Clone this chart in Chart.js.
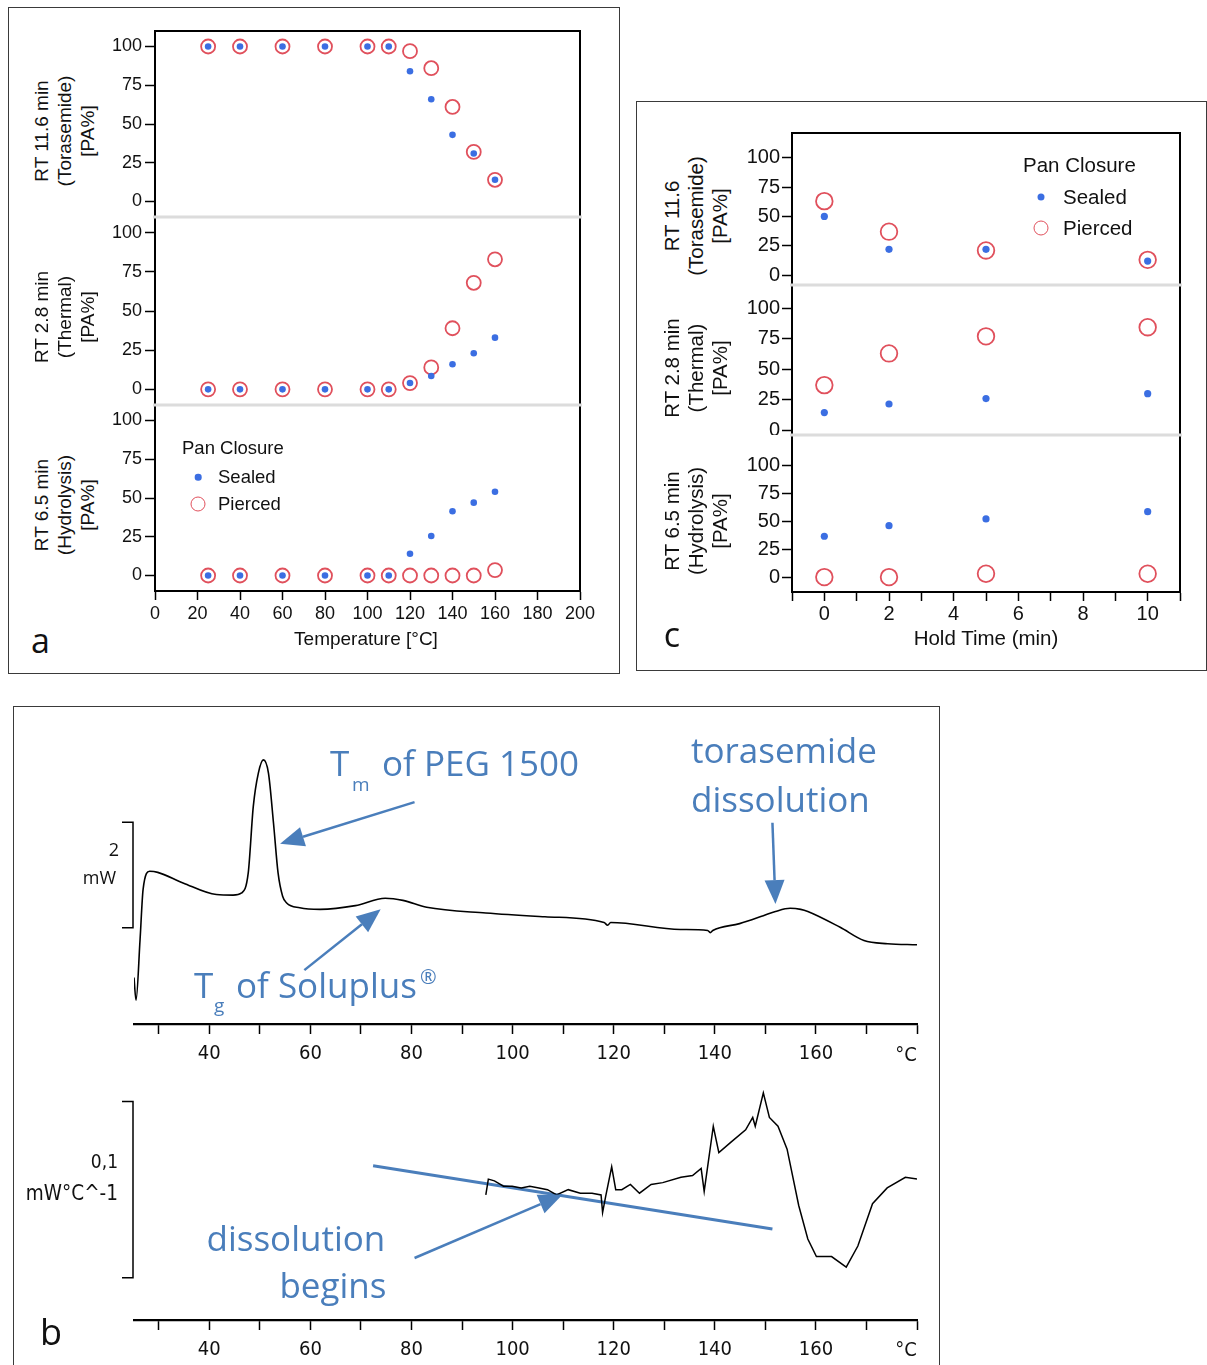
<!DOCTYPE html>
<html>
<head>
<meta charset="utf-8">
<title>Torasemide degradation and DSC</title>
<script src="https://cdn.jsdelivr.net/npm/chart.js@4.4.1/dist/chart.umd.min.js"></script>
<style>
  html,body{margin:0;padding:0;background:#fff;}
  #wrap{position:relative;width:1207px;height:1365px;overflow:hidden;font-family:'Liberation Sans',Arial,sans-serif;color:#111;}
  #wrap canvas{position:absolute;}
  .box{position:absolute;border:1.5px solid #3a3a3a;box-sizing:border-box;}
  .lbl{position:absolute;white-space:nowrap;line-height:1;transform:translate(-50%,-50%);}
  .lbl.left{transform:translate(0,-50%);}
  .vt{position:absolute;white-space:nowrap;text-align:center;transform:translate(-50%,-50%) rotate(-90deg);}
  .mark{position:absolute;border-radius:50%;transform:translate(-50%,-50%);box-sizing:border-box;}
</style>
</head>
<body>
<div id="wrap">
  <div class="box" style="left:8px;top:7px;width:612px;height:667px"></div>
  <div class="box" style="left:636px;top:101px;width:571px;height:570px"></div>
  <div class="box" style="left:13px;top:706px;width:927px;height:680px"></div>

  <canvas id="a1" width="500" height="201" style="left:100px;top:16px"></canvas>
  <canvas id="a2" width="500" height="198" style="left:100px;top:207px"></canvas>
  <canvas id="a3" width="500" height="241" style="left:100px;top:395px"></canvas>

  <canvas id="c1" width="470" height="165" style="left:732px;top:120px"></canvas>
  <canvas id="c2" width="470" height="160" style="left:732px;top:275px"></canvas>
  <canvas id="c3" width="470" height="212" style="left:732px;top:425px"></canvas>

  <canvas id="dsc" width="926" height="369" style="left:13px;top:706px"></canvas>
  <canvas id="deriv" width="926" height="300" style="left:13px;top:1065px"></canvas>
</div>
<script>
// ---- panel a: temperature ramp ----
const tempC = [25, 40, 60, 80, 100, 110, 120, 130, 140, 150, 160];
const toraSealedT   = [100, 100, 100, 100, 100, 100, 84, 66, 43, 31, 14];
const toraPiercedT  = [100, 100, 100, 100, 100, 100, 97, 86, 61, 32, 14];
const thermSealedT  = [0, 0, 0, 0, 0, 0, 4, 8.5, 16, 23, 33];
const thermPiercedT = [0, 0, 0, 0, 0, 0, 4, 14, 39, 68, 83];
const hydroSealedT  = [0, 0, 0, 0, 0, 0, 14, 25.5, 41.5, 47, 54];
const hydroPiercedT = [0, 0, 0, 0, 0, 0, 0, 0, 0, 0, 3.5];
const tempTicks = [0, 20, 40, 60, 80, 100, 120, 140, 160, 180, 200];

// ---- panel c: hold time at temperature ----
const holdMin = [0, 2, 5, 10];
const toraSealedH   = [50, 22, 22, 12];
const toraPiercedH  = [63, 37, 21, 13];
const thermSealedH  = [14.5, 21.5, 26, 30];
const thermPiercedH = [37, 63, 77, 84.5];
const hydroSealedH  = [36.5, 46, 52, 58.5];
const hydroPiercedH = [0, 0, 3, 3];
const holdTicks = [-1, 0, 1, 2, 3, 4, 5, 6, 7, 8, 9, 10, 11];

const pctTicks = [0, 25, 50, 75, 100];

// ---- panel b: DSC heat flow (mW) and its derivative (mW/°C) ----
const dscTemp = [25.1, 25.5, 26.3, 26.9, 28.2, 29.8, 34.8, 41.4, 44.7, 46.4, 47.7, 48.7, 49.7, 50.7, 51.7, 52.7, 53.6, 54.5, 55.3, 57.9, 61.9, 68.9, 74.8, 78.3, 83.0, 94.7, 106.4, 118.1, 118.8, 119.4, 133.2, 138.6, 139.1, 139.6, 144.9, 149.6, 152.0, 154.9, 157.0, 158.4, 164.8, 169.5, 174.2, 180.0];
const dscHeat = [-0.62, -1.05, 0.10, 1.05, 1.39, 1.37, 1.17, 0.95, 0.94, 0.98, 1.36, 2.62, 3.25, 3.50, 3.25, 2.30, 1.36, 0.92, 0.79, 0.70, 0.67, 0.74, 0.88, 0.84, 0.71, 0.60, 0.53, 0.42, 0.37, 0.42, 0.29, 0.27, 0.23, 0.27, 0.40, 0.55, 0.63, 0.69, 0.67, 0.63, 0.33, 0.08, 0.02, 0.00];

const derivTemp = [94.7, 95.2, 96.4, 98.2, 99.9, 101.7, 103.4, 105.2, 106.9, 108.7, 111.0, 113.4, 115.7, 117.5, 117.8, 118.4, 119.6, 120.4, 121.6, 123.3, 125.1, 127.4, 129.7, 133.3, 135.6, 137.3, 137.9, 139.7, 140.8, 143.2, 146.1, 147.5, 148.0, 149.6, 150.8, 152.5, 154.3, 156.6, 158.4, 160.1, 163.1, 166.0, 168.3, 171.2, 174.1, 177.7, 180.0];
const derivVal = [0.047, 0.056, 0.055, 0.052, 0.052, 0.051, 0.052, 0.051, 0.050, 0.047, 0.050, 0.048, 0.048, 0.047, 0.037, 0.046, 0.063, 0.050, 0.050, 0.053, 0.048, 0.053, 0.054, 0.057, 0.058, 0.062, 0.049, 0.086, 0.071, 0.077, 0.084, 0.091, 0.086, 0.105, 0.091, 0.086, 0.073, 0.041, 0.022, 0.012, 0.012, 0.006, 0.018, 0.042, 0.051, 0.057, 0.056];

// onset tangent on the derivative curve
const tangentT = [72.4, 151.4];
const tangentV = [0.0636, 0.0277];

const dscTicks = [30, 40, 50, 60, 70, 80, 90, 100, 110, 120, 130, 140, 150, 160, 170, 180];
const dscLabels = [40, 60, 80, 100, 120, 140, 160];

const BLUE = '#3b6ee2', RED = '#e0505c', NOTE = '#4a7ebb';
const SANS = "'Liberation Sans', Arial, sans-serif";
const NARROW = "'Liberation Sans Narrow', 'DejaVu Sans Condensed', sans-serif";
const CAL = "'Open Sans', 'Noto Sans', sans-serif";

Chart.defaults.font.family = SANS;
Chart.defaults.color = '#111';

// right/top frame lines and the grey band between stacked panels
const framePlugin = {
  id: 'frame',
  afterDraw(chart, args, opts) {
    const {ctx, chartArea: a} = chart;
    ctx.save();
    ctx.strokeStyle = '#000';
    ctx.lineWidth = 2;
    ctx.beginPath();
    ctx.moveTo(a.right, a.top);
    ctx.lineTo(a.right, a.bottom);
    if (opts.top) { ctx.moveTo(a.left - 1, a.top); ctx.lineTo(a.right + 1, a.top); }
    ctx.stroke();
    if (opts.divider) {
      ctx.strokeStyle = '#dcdcdc';
      ctx.lineWidth = 3;
      ctx.beginPath();
      ctx.moveTo(a.left - 2, a.top);
      ctx.lineTo(a.right + 2, a.top);
      ctx.stroke();
    }
    ctx.restore();
  }
};

// annotations for the DSC curves: scale bar, arrows (in data units) and captions
const NOTES = {
  dsc: {
    bar: [0.32, 2.32],
    arrows: [
      { from: [80.6, 2.70], to: [54.0, 1.91] },
      { from: [151.4, 2.31], to: [152.0, 0.77] },
      { from: [58.8, -0.48], to: [73.9, 0.67] }
    ],
    texts: [
      { t: 'T', x: 317, y: 70, size: 35 },
      { t: 'm', x: 339, y: 85, size: 19 },
      { t: 'of PEG 1500', x: 369, y: 70, size: 35 },
      { t: 'torasemide', x: 678, y: 57, size: 35 },
      { t: 'dissolution', x: 678, y: 106, size: 35 },
      { t: 'T', x: 181, y: 292, size: 35 },
      { t: 'g', x: 201, y: 306, size: 19 },
      { t: 'of Soluplus', x: 223, y: 292, size: 35 },
      { t: '®', x: 407, y: 278, size: 20 },
      { t: '2', x: 106, y: 150, size: 18, color: '#111', align: 'right' },
      { t: 'mW', x: 103, y: 178, size: 18, color: '#111', align: 'right' },
      { t: '°C', x: 893, y: 355, size: 20, color: '#111', align: 'center', family: NARROW }
    ]
  },
  deriv: {
    bar: [0, 0.1],
    arrows: [
      { from: [80.6, 0.0112], to: [109.9, 0.0472] }
    ],
    texts: [
      { t: 'dissolution', x: 193.5, y: 186, size: 35 },
      { t: 'begins', x: 373.5, y: 233, size: 35, align: 'right' },
      { t: '0,1', x: 105, y: 103, size: 19, color: '#111', align: 'right', family: "'DejaVu Sans Condensed', sans-serif" },
      { t: 'mW°C^-1', x: 105, y: 135, size: 20.5, color: '#111', align: 'right', family: "'DejaVu Sans Condensed', sans-serif" },
      { t: '°C', x: 893, y: 291, size: 20, color: '#111', align: 'center', family: NARROW },
      { t: 'b', x: 27, y: 280, size: 36, color: '#111', family: CAL }
    ]
  }
};

const notesPlugin = {
  id: 'notes',
  afterDraw(chart) {
    const n = NOTES[chart.canvas.id];
    if (!n) return;
    const {ctx, chartArea} = chart;
    const xs = chart.scales.x, ys = chart.scales.y;
    const at = p => [xs.getPixelForValue(p[0]), ys.getPixelForValue(p[1])];
    ctx.save();
    // scale bar "]"
    const bx = chartArea.left - 1;
    const y0 = ys.getPixelForValue(n.bar[0]), y1 = ys.getPixelForValue(n.bar[1]);
    ctx.strokeStyle = '#000';
    ctx.lineWidth = 1.5;
    ctx.beginPath();
    ctx.moveTo(bx - 11, y1); ctx.lineTo(bx, y1); ctx.lineTo(bx, y0); ctx.lineTo(bx - 11, y0);
    ctx.stroke();
    // arrows
    ctx.strokeStyle = NOTE;
    ctx.fillStyle = NOTE;
    ctx.lineWidth = 2.5;
    n.arrows.forEach(a => {
      const [x0, yA] = at(a.from), [x1, yB] = at(a.to);
      const ang = Math.atan2(yB - yA, x1 - x0), len = 24, half = 10;
      const hx = x1 - len * Math.cos(ang), hy = yB - len * Math.sin(ang);
      ctx.beginPath(); ctx.moveTo(x0, yA); ctx.lineTo(hx, hy); ctx.stroke();
      ctx.beginPath();
      ctx.moveTo(x1, yB);
      ctx.lineTo(hx + half * Math.sin(ang), hy - half * Math.cos(ang));
      ctx.lineTo(hx - half * Math.sin(ang), hy + half * Math.cos(ang));
      ctx.closePath(); ctx.fill();
    });
    // captions
    ctx.textBaseline = 'alphabetic';
    n.texts.forEach(t => {
      ctx.font = t.size + 'px ' + (t.family || CAL);
      ctx.fillStyle = t.color || NOTE;
      ctx.textAlign = t.align || 'left';
      ctx.fillText(t.t, t.x, t.y);
    });
    ctx.restore();
  }
};

function pointSets(xs, sealed, pierced, dot, ring) {
  return [
    { label: 'Sealed', data: xs.map((x, i) => ({x, y: sealed[i]})),
      pointRadius: dot, pointBackgroundColor: BLUE, pointBorderColor: BLUE, pointBorderWidth: 0 },
    { label: 'Pierced', data: xs.map((x, i) => ({x, y: pierced[i]})),
      pointRadius: ring, pointBackgroundColor: 'rgba(0,0,0,0)', pointBorderColor: RED, pointBorderWidth: 1.8 }
  ];
}

function pctPanel(id, cfg) {
  const showX = !!cfg.xh;
  return new Chart(document.getElementById(id), {
    type: 'scatter',
    data: { datasets: pointSets(cfg.x, cfg.sealed, cfg.pierced, cfg.dot, cfg.ring) },
    options: {
      responsive: false, animation: false, events: [],
      layout: { autoPadding: false, padding: { left: 0, top: cfg.padTop, right: cfg.padRight, bottom: 0 } },
      plugins: { legend: {display: false}, tooltip: {enabled: false}, frame: { top: !!cfg.top, divider: !!cfg.divider } },
      scales: {
        x: {
          type: 'linear', min: cfg.xMin, max: cfg.xMax, display: showX,
          afterFit: s => { if (showX) s.height = cfg.xh; s.paddingLeft = 0; s.paddingRight = 0; },
          afterBuildTicks: s => { s.ticks = cfg.xTicks.map(v => ({value: v})); },
          ticks: { autoSkip: false, maxRotation: 0, padding: cfg.xPad || 3, font: {size: cfg.font}, callback: cfg.xLabel },
          grid: { drawOnChartArea: false, tickLength: 9, tickColor: '#000', tickWidth: 1.5 },
          border: { color: '#000', width: 2 }
        },
        y: {
          min: cfg.yMin, max: cfg.yMax,
          afterFit: s => { s.width = cfg.yw; s.paddingTop = 0; s.paddingBottom = 0; },
          afterBuildTicks: s => { s.ticks = pctTicks.map(v => ({value: v})); },
          ticks: { padding: cfg.yPad, font: {size: cfg.font} },
          grid: { drawOnChartArea: false, tickLength: 10, tickColor: '#000', tickWidth: 1.5 },
          border: { color: '#000', width: 2 }
        }
      }
    },
    plugins: [framePlugin]
  });
}

// panel a
const aBase = { x: tempC, dot: 3.3, ring: 7, padRight: 20, yw: 55, yMin: -10, yMax: 110, font: 18, yPad: 3,
  xMin: 0, xMax: 200, xTicks: tempTicks, xLabel: v => v };
pctPanel('a1', {...aBase, sealed: toraSealedT, pierced: toraPiercedT, padTop: 15, top: true});
pctPanel('a2', {...aBase, sealed: thermSealedT, pierced: thermPiercedT, padTop: 10, divider: true});
pctPanel('a3', {...aBase, sealed: hydroSealedT, pierced: hydroPiercedT, padTop: 10, divider: true, xh: 45, xPad: 3});

// panel c
const cBase = { x: holdMin, dot: 3.6, ring: 8.3, padRight: 22, yw: 60, font: 20, yPad: 2,
  xMin: -1, xMax: 11, xTicks: holdTicks, xLabel: v => (v >= 0 && v <= 10 && v % 2 === 0) ? v : '' };
pctPanel('c1', {...cBase, sealed: toraSealedH, pierced: toraPiercedH, padTop: 13, yMin: -8.4, yMax: 121, top: true});
pctPanel('c2', {...cBase, sealed: thermSealedH, pierced: thermPiercedH, padTop: 10, yMin: -3.9, yMax: 119.1, divider: true});
pctPanel('c3', {...cBase, sealed: hydroSealedH, pierced: hydroPiercedH, padTop: 10, yMin: -13.3, yMax: 127, divider: true, xh: 45, xPad: 1});

// panel b
function dscPanel(id, cfg) {
  return new Chart(document.getElementById(id), {
    type: 'line',
    data: { datasets: cfg.datasets },
    options: {
      responsive: false, animation: false, events: [],
      layout: { autoPadding: false, padding: { left: 121, right: 22, top: cfg.padTop, bottom: 0 } },
      plugins: { legend: {display: false}, tooltip: {enabled: false} },
      scales: {
        x: {
          type: 'linear', min: 25.1, max: 180,
          afterFit: s => { s.height = cfg.xh; s.paddingLeft = 0; s.paddingRight = 0; },
          afterBuildTicks: s => { s.ticks = dscTicks.map(v => ({value: v})); },
          ticks: { autoSkip: false, maxRotation: 0, padding: 8, font: {family: NARROW, size: 20},
                   callback: v => dscLabels.includes(v) ? v : '' },
          grid: { drawOnChartArea: false, tickLength: 10, tickColor: '#000', tickWidth: 1.5 },
          border: { color: '#000', width: 2.2 }
        },
        y: { display: false, min: cfg.yMin, max: cfg.yMax }
      }
    },
    plugins: [notesPlugin]
  });
}

dscPanel('dsc', {
  padTop: 38, xh: 51, yMin: -1.5, yMax: 3.8,
  datasets: [{
    data: dscTemp.map((t, i) => ({x: t, y: dscHeat[i]})),
    borderColor: '#000', borderWidth: 1.6, pointRadius: 0, cubicInterpolationMode: 'monotone', fill: false
  }]
});

dscPanel('deriv', {
  padTop: 19, xh: 45, yMin: -0.024, yMax: 0.11,
  datasets: [
    { data: derivTemp.map((t, i) => ({x: t, y: derivVal[i]})),
      borderColor: '#000', borderWidth: 1.5, pointRadius: 0, tension: 0, fill: false },
    { data: tangentT.map((t, i) => ({x: t, y: tangentV[i]})),
      borderColor: NOTE, borderWidth: 3, pointRadius: 0, tension: 0, fill: false }
  ]
});

// titles, legends and panel letters
const wrap = document.getElementById('wrap');
function label(text, x, y, size, cls, extra) {
  const d = document.createElement('div');
  d.className = 'lbl' + (cls ? ' ' + cls : '');
  d.textContent = text;
  d.style.left = x + 'px';
  d.style.top = y + 'px';
  d.style.fontSize = size + 'px';
  Object.assign(d.style, extra || {});
  wrap.appendChild(d);
}
function vtitle(lines, x, y, size, lh) {
  const d = document.createElement('div');
  d.className = 'vt';
  d.innerHTML = lines.join('<br>');
  d.style.left = x + 'px';
  d.style.top = y + 'px';
  d.style.fontSize = size + 'px';
  d.style.lineHeight = lh + 'px';
  wrap.appendChild(d);
}
function mark(x, y, filled, size) {
  const d = document.createElement('div');
  d.className = 'mark';
  d.style.left = x + 'px';
  d.style.top = y + 'px';
  d.style.width = size + 'px';
  d.style.height = size + 'px';
  if (filled) d.style.background = BLUE;
  else d.style.border = '1.8px solid ' + RED;
  wrap.appendChild(d);
}

vtitle(['RT 11.6 min', '(Torasemide)', '[PA%]'], 64, 131, 19, 23);
vtitle(['RT 2.8 min', '(Thermal)', '[PA%]'], 64, 317, 19, 23);
vtitle(['RT 6.5 min', '(Hydrolysis)', '[PA%]'], 64, 505, 19, 23);
label('Temperature [°C]', 366, 638, 19);
label('Pan Closure', 182, 448, 18.5, 'left');
mark(198, 477, true, 6.6); label('Sealed', 218, 477, 18.5, 'left');
mark(198, 504, false, 15); label('Pierced', 218, 504, 18.5, 'left');
label('a', 40.5, 640, 34, '', {fontFamily: CAL});

vtitle(['RT 11.6', '(Torasemide)', '[PA%]'], 696, 216, 20.5, 24);
vtitle(['RT 2.8 min', '(Thermal)', '[PA%]'], 696, 368, 20.5, 24);
vtitle(['RT 6.5 min', '(Hydrolysis)', '[PA%]'], 696, 521, 20.5, 24);
label('Hold Time (min)', 986, 638, 20.5);
label('Pan Closure', 1023, 165, 20.5, 'left');
mark(1041, 197, true, 7); label('Sealed', 1063, 197, 20.5, 'left');
mark(1041, 228, false, 15); label('Pierced', 1063, 228, 20.5, 'left');
label('c', 672, 634, 34, '', {fontFamily: CAL});
</script>
</body>
</html>
